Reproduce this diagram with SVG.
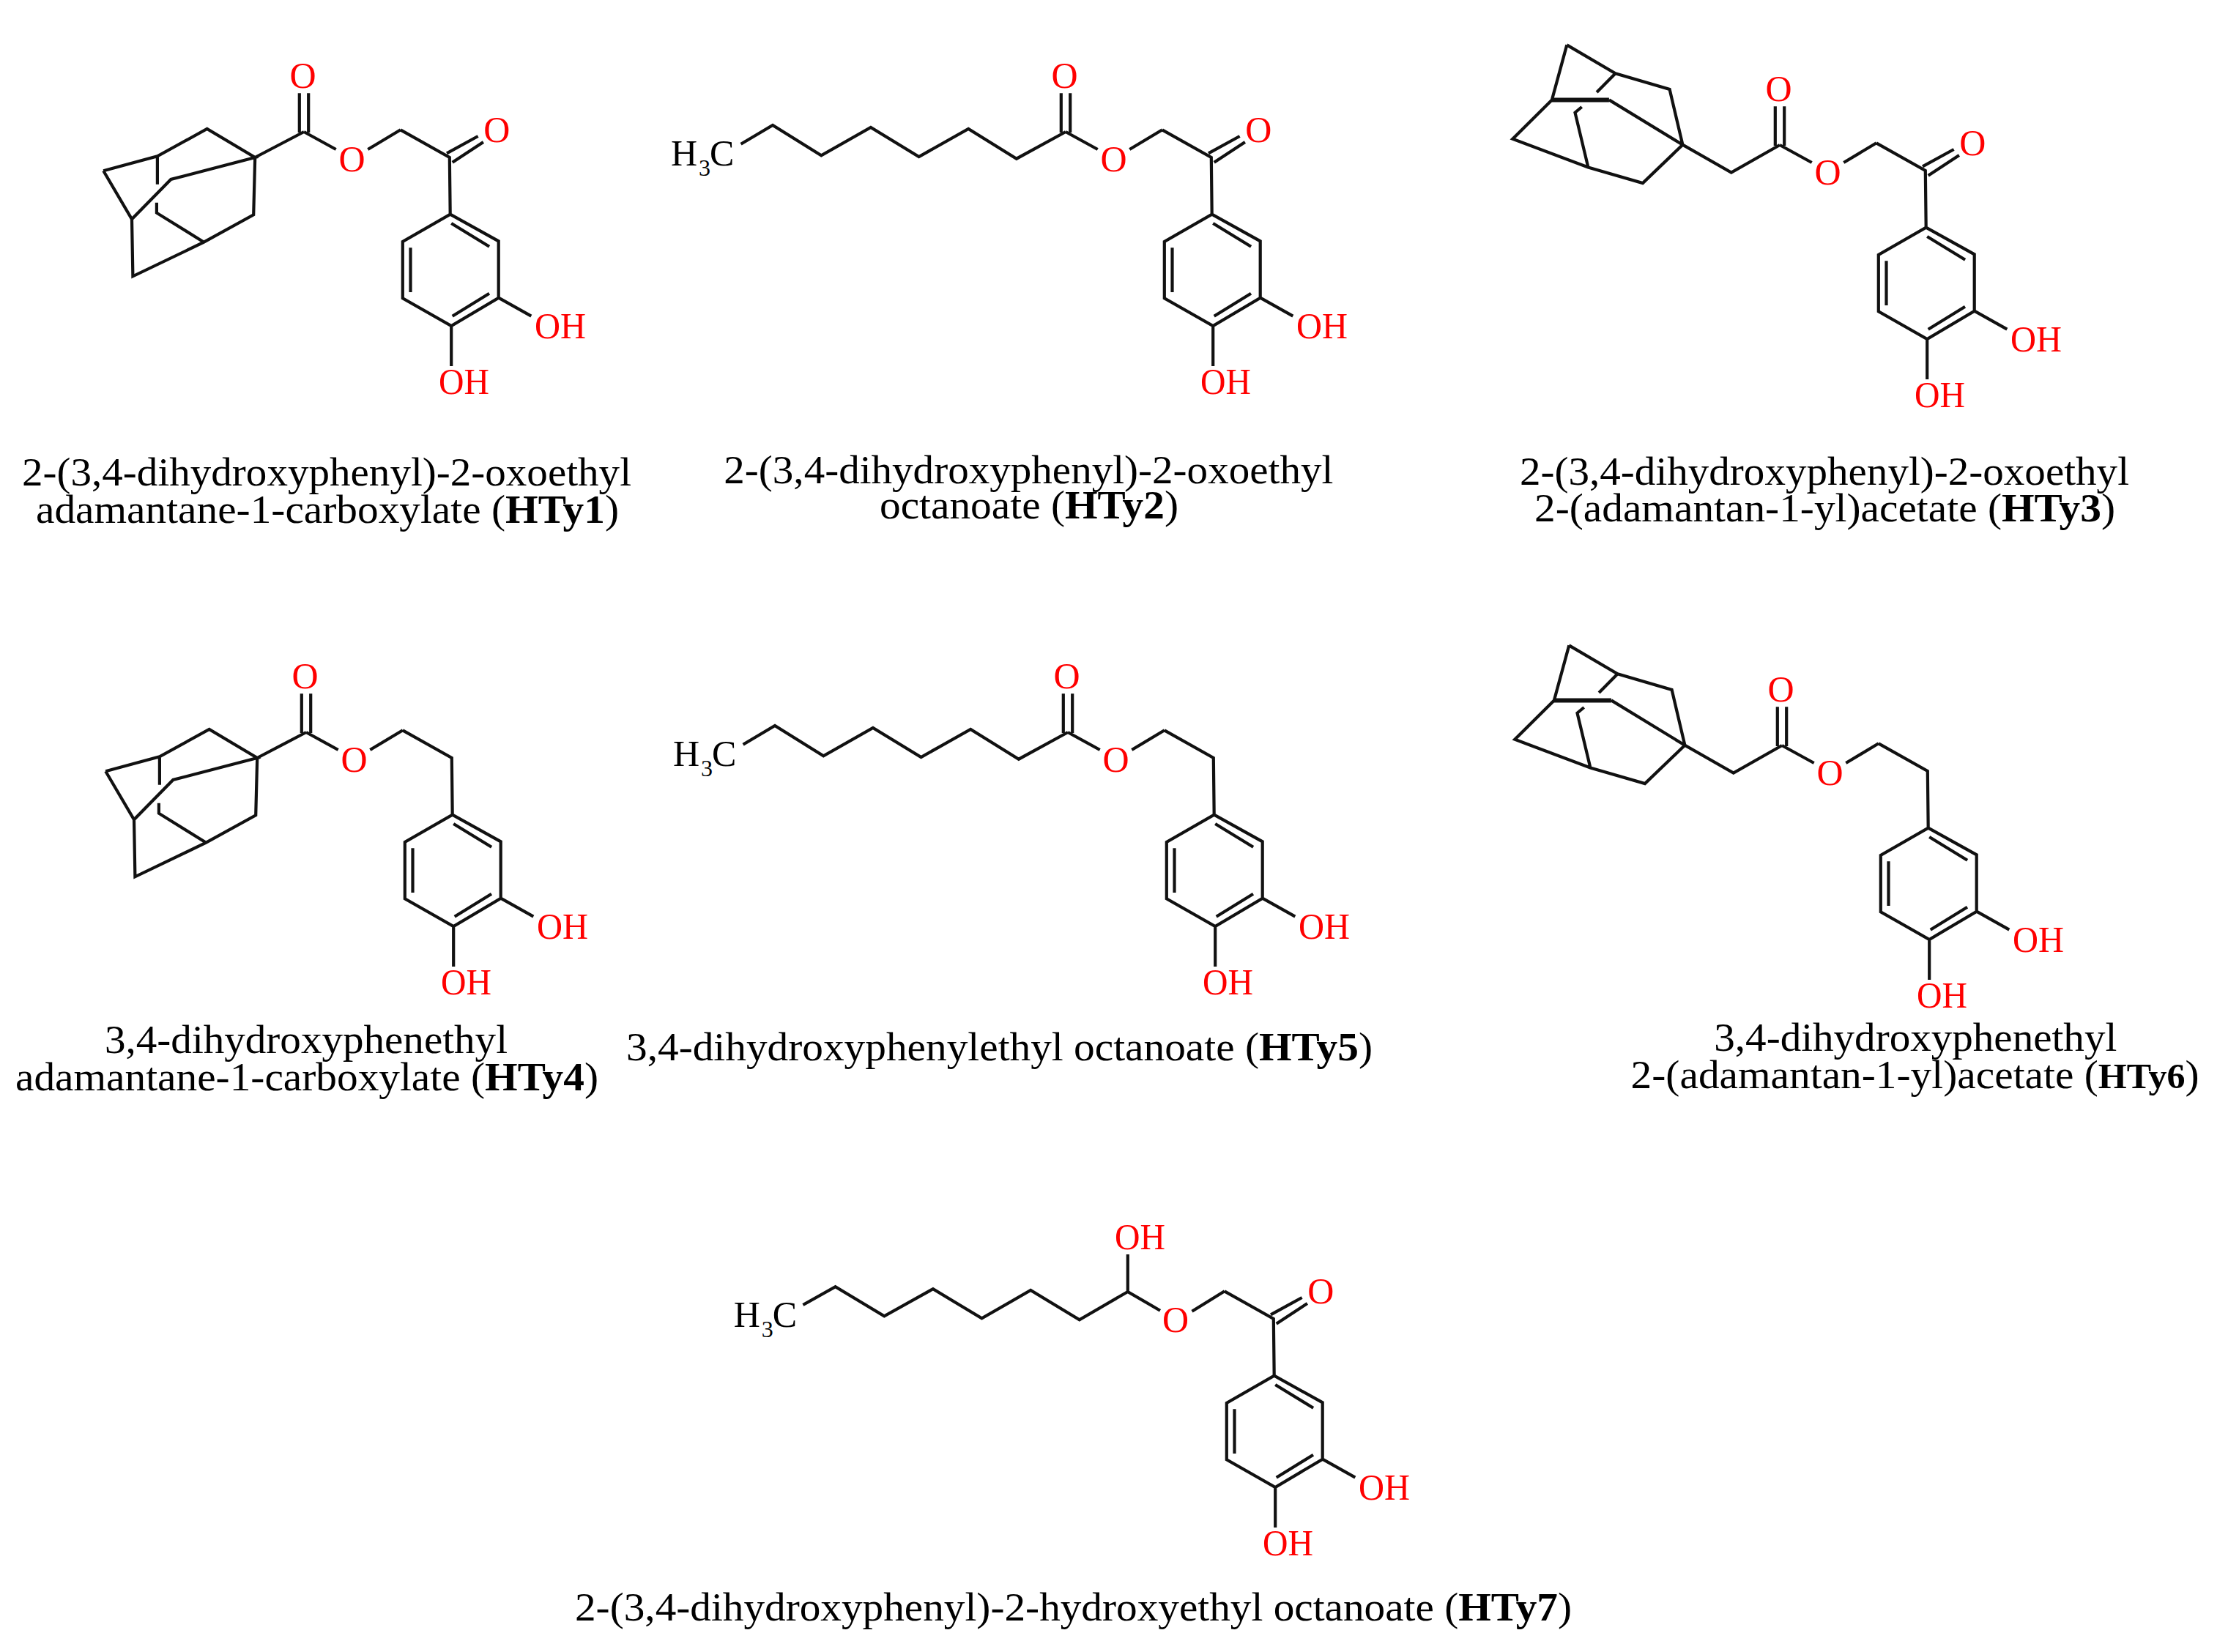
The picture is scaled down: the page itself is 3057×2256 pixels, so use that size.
<svg xmlns="http://www.w3.org/2000/svg" width="3057" height="2256" viewBox="0 0 3057 2256">
<style>
text{font-family:"Liberation Serif","Times New Roman",serif}
.b{fill:none;stroke:#111;stroke-width:4.2;stroke-linejoin:miter;stroke-linecap:butt}
.bt{fill:none;stroke:#111;stroke-width:6}
.l{fill:#f00;font-size:50px}
.m{text-anchor:middle}
.k{fill:#000;font-size:50px}
.c{fill:#000;font-size:55px}
.s{font-weight:bold}
</style>
<defs>
<path id="ring2" d="M614.7 292.7L680.7 329.3L680.7 406.7L616.2 445L549.8 407.3L549.8 330ZM616.2 305L668.1 336.7M668 400.7L617.7 431.7M560.5 338.3V399M680.7 406.7L725.3 431.7M616.2 445V500M546.9 177.3L613.8 215L614.7 292.7"/>
<path id="ketone" d="M610 209.3L652.6 186M617.7 221.7L659.9 194"/>
<path id="ester" d="M408.8 181V127.3M421.2 181V127.3M415 180L458.7 204M502.3 204L546.9 177.3"/>
<path id="adamA" d="M348.2 215L415 180M141.2 233.3L214.9 213.3L282.7 176L348.2 215L233.3 245L180 299.3L141.2 233.3M180 299.3L181.4 377.3L278.4 330.7L346.2 293.3L348.2 215M278.4 330.7L213.9 290.7V276.7M214.9 213.3V251.7"/>
<path id="adamB" d="M2139.3 61.4L2205.6 100.3L2279.6 122L2297.4 197.7L2196.9 136.4M2118.9 136.4L2139.3 61.4M2118.9 136.4L2065.3 189.8L2168.4 228.4L2242.9 250.1L2297.4 197.7L2363.8 235.6L2430 198M2168.4 228.4L2150.5 153.7L2159.7 146M2205.6 100.3L2180.1 126.1"/>
<path id="adamBt" d="M2118.9 136.4H2196.9"/>
<path id="octyl" d="M1455 180L1387.9 216.7L1322.2 176L1254.6 214L1188.9 174L1121.3 212.3L1055 171L1011.6 196.7"/>
</defs>

<g id="HTy1">
<g class="b"><use href="#adamA"/><use href="#ester"/><use href="#ketone"/><use href="#ring2"/></g>
<text class="l m" x="413.6" y="120">O</text><text class="l m" x="480.5" y="234">O</text><text class="l m" x="678.2" y="194">O</text>
<text class="l" x="730" y="461.7" textLength="70" lengthAdjust="spacingAndGlyphs">OH</text><text class="l" x="599" y="538.3" textLength="69" lengthAdjust="spacingAndGlyphs">OH</text>
<text class="c" x="30" y="662.7" textLength="832" lengthAdjust="spacingAndGlyphs">2-(3,4-dihydroxyphenyl)-2-oxoethyl</text>
<text class="c" x="49" y="714" textLength="796" lengthAdjust="spacingAndGlyphs">adamantane-1-carboxylate (<tspan class="s">HTy1</tspan>)</text>
</g>

<g id="HTy2">
<g class="b"><use href="#octyl"/><g transform="translate(1040 0)"><use href="#ester"/><use href="#ketone"/><use href="#ring2"/></g></g>
<g transform="translate(1040 0)">
<text class="l m" x="413.6" y="120">O</text><text class="l m" x="480.5" y="234">O</text><text class="l m" x="678.2" y="194">O</text>
<text class="l" x="730" y="461.7" textLength="70" lengthAdjust="spacingAndGlyphs">OH</text><text class="l" x="599" y="538.3" textLength="69" lengthAdjust="spacingAndGlyphs">OH</text>
</g>
<text class="k" y="226"><tspan x="916">H</tspan><tspan x="954" y="240" font-size="32">3</tspan><tspan x="969" y="226">C</tspan></text>
<text class="c" x="988.3" y="660" textLength="832" lengthAdjust="spacingAndGlyphs">2-(3,4-dihydroxyphenyl)-2-oxoethyl</text>
<text class="c" x="1201" y="708.3" textLength="408" lengthAdjust="spacingAndGlyphs">octanoate (<tspan class="s">HTy2</tspan>)</text>
</g>

<g id="HTy3">
<g class="b"><use href="#adamB"/><use href="#adamBt" class="bt"/><g transform="translate(2015 18)"><use href="#ester"/><use href="#ketone"/><use href="#ring2"/></g></g>
<g transform="translate(2015 18)">
<text class="l m" x="413.6" y="120">O</text><text class="l m" x="480.5" y="234">O</text><text class="l m" x="678.2" y="194">O</text>
<text class="l" x="730" y="461.7" textLength="70" lengthAdjust="spacingAndGlyphs">OH</text><text class="l" x="599" y="538.3" textLength="69" lengthAdjust="spacingAndGlyphs">OH</text>
</g>
<text class="c" x="2075" y="661.7" textLength="832" lengthAdjust="spacingAndGlyphs">2-(3,4-dihydroxyphenyl)-2-oxoethyl</text>
<text class="c" x="2095" y="712.3" textLength="793" lengthAdjust="spacingAndGlyphs">2-(adamantan-1-yl)acetate (<tspan class="s">HTy3</tspan>)</text>
</g>

<g id="HTy4">
<g class="b" transform="translate(3 820)"><use href="#adamA"/><use href="#ester"/><use href="#ring2"/></g>
<g transform="translate(3 820)">
<text class="l m" x="413.6" y="120">O</text><text class="l m" x="480.5" y="234">O</text>
<text class="l" x="730" y="461.7" textLength="70" lengthAdjust="spacingAndGlyphs">OH</text><text class="l" x="599" y="538.3" textLength="69" lengthAdjust="spacingAndGlyphs">OH</text>
</g>
<text class="c" x="143" y="1438.3" textLength="550" lengthAdjust="spacingAndGlyphs">3,4-dihydroxyphenethyl</text>
<text class="c" x="21" y="1489" textLength="796" lengthAdjust="spacingAndGlyphs">adamantane-1-carboxylate (<tspan class="s">HTy4</tspan>)</text>
</g>

<g id="HTy5">
<g class="b" transform="translate(3 820)"><use href="#octyl"/><g transform="translate(1040 0)"><use href="#ester"/><use href="#ring2"/></g></g>
<g transform="translate(1043 820)">
<text class="l m" x="413.6" y="120">O</text><text class="l m" x="480.5" y="234">O</text>
<text class="l" x="730" y="461.7" textLength="70" lengthAdjust="spacingAndGlyphs">OH</text><text class="l" x="599" y="538.3" textLength="69" lengthAdjust="spacingAndGlyphs">OH</text>
</g>
<text class="k" y="1046"><tspan x="919">H</tspan><tspan x="957" y="1060" font-size="32">3</tspan><tspan x="972" y="1046">C</tspan></text>
<text class="c" x="855" y="1448" textLength="1019" lengthAdjust="spacingAndGlyphs">3,4-dihydroxyphenylethyl octanoate (<tspan class="s">HTy5</tspan>)</text>
</g>

<g id="HTy6">
<g class="b" transform="translate(3 820)"><use href="#adamB"/><use href="#adamBt" class="bt"/><g transform="translate(2015 18)"><use href="#ester"/><use href="#ring2"/></g></g>
<g transform="translate(2018 838)">
<text class="l m" x="413.6" y="120">O</text><text class="l m" x="480.5" y="234">O</text>
<text class="l" x="730" y="461.7" textLength="70" lengthAdjust="spacingAndGlyphs">OH</text><text class="l" x="599" y="538.3" textLength="69" lengthAdjust="spacingAndGlyphs">OH</text>
</g>
<text class="c" x="2340.3" y="1435" textLength="550" lengthAdjust="spacingAndGlyphs">3,4-dihydroxyphenethyl</text>
<text class="c" x="2226.6" y="1485.7" textLength="776" lengthAdjust="spacingAndGlyphs">2-(adamantan-1-yl)acetate (<tspan class="s" font-size="48">HTy6</tspan>)</text>
</g>

<g id="HTy7">
<g class="b"><g transform="translate(1125 1586)"><use href="#ketone"/><use href="#ring2"/></g>
<path d="M1671.9 1763.3L1627.5 1790.8M1584 1789.7L1539.8 1764V1713M1539.8 1764L1473.8 1802.3L1407.2 1762L1340.5 1800.4L1273.9 1760.2L1207.3 1797.3L1140.6 1757.2L1096.4 1782"/></g>
<text class="l m" x="1605" y="1819">O</text><text class="l m" x="1803.2" y="1780">O</text>
<text class="l" x="1522" y="1705.5" textLength="69" lengthAdjust="spacingAndGlyphs">OH</text>
<text class="l" x="1855" y="2047.7" textLength="70" lengthAdjust="spacingAndGlyphs">OH</text><text class="l" x="1724" y="2124.3" textLength="69" lengthAdjust="spacingAndGlyphs">OH</text>
<text class="k" y="1811.5"><tspan x="1001.7">H</tspan><tspan x="1039.7" y="1825.5" font-size="32">3</tspan><tspan x="1054.7" y="1811.5">C</tspan></text>
<text class="c" x="785" y="2212.7" textLength="1361" lengthAdjust="spacingAndGlyphs">2-(3,4-dihydroxyphenyl)-2-hydroxyethyl octanoate (<tspan class="s">HTy7</tspan>)</text>
</g>
</svg>
